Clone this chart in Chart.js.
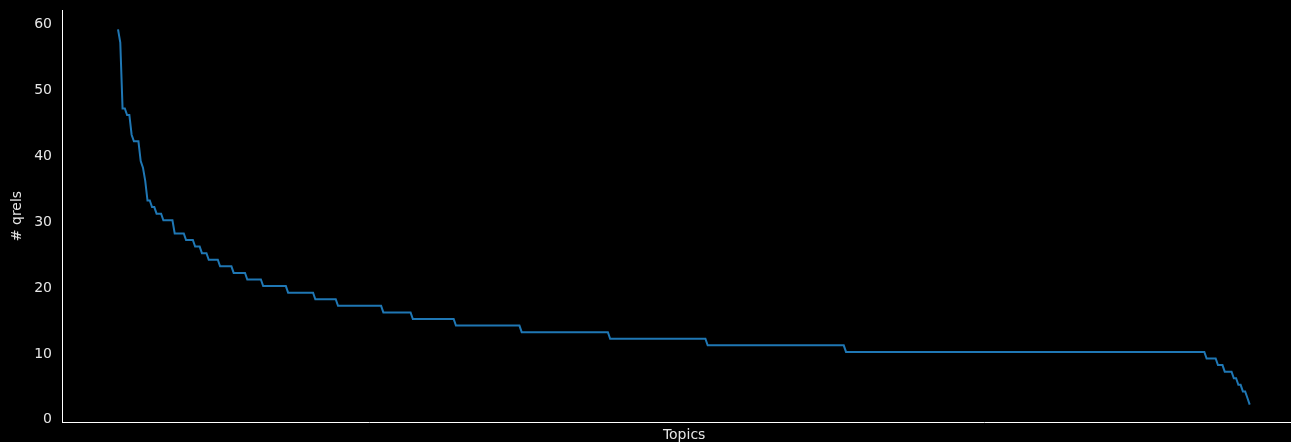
<!DOCTYPE html>
<html>
<head>
<meta charset="utf-8">
<title># qrels per topic</title>
<script src="https://cdn.jsdelivr.net/npm/chart.js@4/dist/chart.umd.min.js"></script>
<style>
  html, body { margin: 0; padding: 0; background: #000; }
  canvas { display: block; }
</style>
</head>
<body>
<canvas id="chart" width="1291" height="442"></canvas>
<script>
// Number of relevance judgements per topic, sorted descending.
// Stored run-length: each level and how many consecutive topics share it.
const qrelLevels = [59, 57, 47, 46, 43, 42, 39, 38, 36, 33, 32, 31, 30, 28, 27, 26, 25, 24, 23, 22, 21, 20, 19, 18, 17, 16, 15, 14, 13, 12, 11, 10, 9, 8, 7, 6, 5, 4, 3, 2];
const topicCounts = [1, 1, 2, 2, 1, 3, 1, 1, 1, 2, 2, 3, 5, 5, 4, 3, 3, 5, 6, 6, 7, 11, 12, 10, 20, 13, 19, 29, 39, 43, 61, 159, 5, 3, 4, 2, 2, 2, 1, 1];
const yTicks = [0, 10, 20, 30, 40, 50, 60];

const yTitle = '# qrels';
const xTitle = 'Topics';

// Expand the runs into one point per topic.
const points = [];
qrelLevels.forEach((v, k) => {
  for (let n = 0; n < topicCounts[k]; n++) points.push({ x: points.length, y: v });
});
const nTopics = points.length;

const textColor = '#e6e6e6';
const font = { family: 'DejaVu Sans', size: 14 };

// x-axis title centred under the full axes span (which runs past the right edge)
const xTitlePlugin = {
  id: 'xTitle',
  afterDraw(chart) {
    const { ctx, scales } = chart;
    const xs = scales.x;
    const fullRight = xs.getPixelForValue((nTopics - 1) * 1.05);
    const cx = (xs.left + fullRight) / 2;
    ctx.save();
    ctx.fillStyle = textColor;
    ctx.font = `${font.size}px ${font.family}`;
    ctx.textAlign = 'center';
    ctx.textBaseline = 'middle';
    ctx.fillText(xTitle, cx, 435);
    ctx.restore();
  }
};

new Chart(document.getElementById('chart'), {
  type: 'line',
  data: {
    datasets: [{
      data: points,
      borderColor: '#1f77b4',
      borderWidth: 2,
      pointRadius: 0,
      tension: 0,
      fill: false
    }]
  },
  options: {
    responsive: false,
    devicePixelRatio: 1,
    animation: false,
    events: [],
    layout: { padding: { top: 10, right: 0, left: 0, bottom: 0 } },
    plugins: { legend: { display: false }, tooltip: { enabled: false } },
    scales: {
      x: {
        type: 'linear',
        min: -(nTopics - 1) * 0.0495,
        max: (nTopics - 1) * 1.0365,
        grid: { display: false, drawTicks: false },
        border: { display: true, color: '#ffffff', width: 1 },
        ticks: { display: false },
        afterFit(s) { s.height = 20; s.paddingLeft = 0; s.paddingRight = 0; }
      },
      y: {
        type: 'linear',
        min: -0.65,
        max: 61.95,
        grid: { display: false, drawTicks: false },
        border: { display: true, color: '#ffffff', width: 1 },
        afterBuildTicks(s) { s.ticks = yTicks.map(v => ({ value: v })); },
        ticks: { color: textColor, font, padding: 10, includeBounds: false, labelOffset: 2 },
        title: { display: true, text: yTitle, color: textColor, font, padding: { top: 9, bottom: 9 } },
        afterFit(s) { s.width = 62; s.paddingTop = 0; s.paddingBottom = 0; }
      }
    }
  },
  plugins: [xTitlePlugin]
});
</script>
</body>
</html>
